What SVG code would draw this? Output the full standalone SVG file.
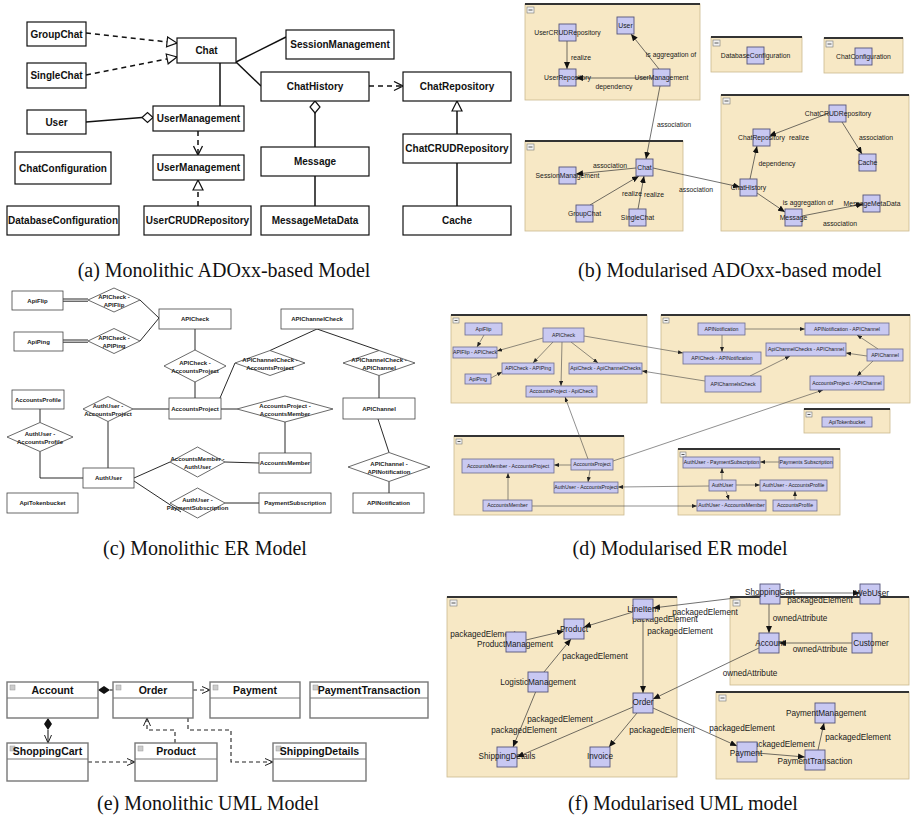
<svg xmlns="http://www.w3.org/2000/svg" width="911" height="826" viewBox="0 0 911 826">
<style>
.bx{fill:#fff;stroke:#111;stroke-width:1.2}
.ta{font:bold 10px "Liberation Sans",Arial,sans-serif;text-anchor:middle;fill:#111}
.la{stroke:#111;stroke-width:1.5;fill:none}
.dsh{stroke-dasharray:5 4}
.grp{fill:#f7e8c5;stroke:#cbb98f;stroke-width:.8}
.gtop{stroke:#333;stroke-width:1.8}
.mi{fill:#f2f2f2;stroke:#777;stroke-width:.6}
.mil{stroke:#333;stroke-width:.8}
.nd{fill:#c8c8f2;stroke:#55557a;stroke-width:.9}
.tb{font:6.8px "Liberation Sans",Arial,sans-serif;text-anchor:middle;fill:#1a1a1a}
.lb{stroke:#333;stroke-width:.7;fill:none}
.bc{fill:#fff;stroke:#444;stroke-width:.8}
.tc{font:bold 6px "Liberation Sans",Arial,sans-serif;text-anchor:middle;fill:#222}
.lc{stroke:#111;stroke-width:.9;fill:none}
.nd2{fill:#c9c9f1;stroke:#6b6b8f;stroke-width:.8}
.td{font:5.2px "Liberation Sans",Arial,sans-serif;text-anchor:middle;fill:#222}
.ld{stroke:#444;stroke-width:.6;fill:none}
.ub{fill:#fff;stroke:#777;stroke-width:1.4}
.uh{stroke:#777;stroke-width:1}
.ui{fill:#ccc;stroke:#999;stroke-width:.5}
.te{font:bold 10.5px "Liberation Sans",Arial,sans-serif;text-anchor:middle;fill:#111}
.le{stroke:#222;stroke-width:1.1;fill:none}
.de{stroke-dasharray:4 3}
.tf{font:8.2px "Liberation Sans",Arial,sans-serif;text-anchor:middle;fill:#1a1a1a}
.cap{font:20px "Liberation Serif","Times New Roman",serif;text-anchor:middle;fill:#111}
</style>
<defs>
<marker id="mTri" viewBox="0 0 12 12" refX="11" refY="6" markerWidth="12" markerHeight="12" markerUnits="userSpaceOnUse" orient="auto"><path d="M1,1 L11,6 L1,11 Z" fill="#fff" stroke="#111" stroke-width="1.2"/></marker>
<marker id="mOpen" viewBox="0 0 11 11" refX="10" refY="5.5" markerWidth="11" markerHeight="11" markerUnits="userSpaceOnUse" orient="auto"><path d="M1,1 L10,5.5 L1,10" fill="none" stroke="#111" stroke-width="1.3"/></marker>
<marker id="mFill" viewBox="0 0 7 6" refX="7" refY="3" markerWidth="7" markerHeight="6" markerUnits="userSpaceOnUse" orient="auto"><path d="M0,0 L7,3 L0,6 Z" fill="#111"/></marker>
<marker id="mFillS" viewBox="0 0 5 4" refX="5" refY="2" markerWidth="5" markerHeight="4" markerUnits="userSpaceOnUse" orient="auto"><path d="M0,0 L5,2 L0,4 Z" fill="#222"/></marker>
<marker id="mOpenE" viewBox="0 0 10 9" refX="9" refY="4.5" markerWidth="10" markerHeight="9" markerUnits="userSpaceOnUse" orient="auto"><path d="M1,1 L9,4.5 L1,8" fill="none" stroke="#222" stroke-width="1"/></marker>
</defs>

<!-- ================= (a) ================= -->
<g id="a-connectors">
<line class="la dsh" x1="86" y1="33" x2="177" y2="43" marker-end="url(#mTri)"/>
<line class="la dsh" x1="86" y1="75" x2="177" y2="57" marker-end="url(#mTri)"/>
<line class="la" x1="236" y1="62" x2="286" y2="37"/>
<line class="la" x1="236" y1="62" x2="261" y2="86"/>
<line class="la" x1="220" y1="63" x2="220" y2="106"/>
<line class="la" x1="86" y1="122" x2="142" y2="117.5"/>
<polygon points="142,117.5 147.5,112.5 153,117.5 147.5,122.5" fill="#fff" stroke="#111" stroke-width="1.2"/>
<line class="la dsh" x1="198" y1="131" x2="198" y2="155" marker-end="url(#mOpen)"/>
<line class="la dsh" x1="198" y1="206" x2="198" y2="180" marker-end="url(#mTri)"/>
<line class="la dsh" x1="369" y1="86" x2="403" y2="86" marker-end="url(#mOpen)"/>
<line class="la" x1="315" y1="147" x2="315" y2="113"/>
<polygon points="315,101 320,107 315,113 310,107" fill="#fff" stroke="#111" stroke-width="1.2"/>
<line class="la" x1="315" y1="176" x2="315" y2="206"/>
<line class="la" x1="457" y1="134" x2="457" y2="101" marker-end="url(#mTri)"/>
<line class="la" x1="457" y1="206" x2="457" y2="163"/>
</g>
<g id="a-GroupChat"><rect class="bx" x="27" y="22" width="59" height="24"/><text class="ta" x="56.5" y="37.5">GroupChat</text></g>
<g id="a-SingleChat"><rect class="bx" x="27" y="63" width="59" height="25"/><text class="ta" x="56.5" y="79">SingleChat</text></g>
<g id="a-Chat"><rect class="bx" x="177" y="38" width="59" height="25"/><text class="ta" x="206.5" y="54">Chat</text></g>
<g id="a-User"><rect class="bx" x="27" y="110" width="59" height="24"/><text class="ta" x="56.5" y="125.5">User</text></g>
<g id="a-UserManagement"><rect class="bx" x="153" y="106" width="91" height="25"/><text class="ta" x="198.5" y="122">UserManagement</text></g>
<g id="a-UserManagement2"><rect class="bx" x="153" y="155" width="91" height="25"/><text class="ta" x="198.5" y="171">UserManagement</text></g>
<g id="a-ChatConfiguration"><rect class="bx" x="15" y="152" width="96" height="32"/><text class="ta" x="63" y="171.5">ChatConfiguration</text></g>
<g id="a-DatabaseConfiguration"><rect class="bx" x="7" y="206" width="112" height="29"/><text class="ta" x="63" y="224">DatabaseConfiguration</text></g>
<g id="a-UserCRUDRepository"><rect class="bx" x="144" y="206" width="107" height="29"/><text class="ta" x="197.5" y="224">UserCRUDRepository</text></g>
<g id="a-SessionManagement"><rect class="bx" x="286" y="30" width="108" height="29"/><text class="ta" x="340" y="48">SessionManagement</text></g>
<g id="a-ChatHistory"><rect class="bx" x="261" y="72" width="108" height="29"/><text class="ta" x="315" y="90">ChatHistory</text></g>
<g id="a-ChatRepository"><rect class="bx" x="403" y="72" width="108" height="29"/><text class="ta" x="457" y="90">ChatRepository</text></g>
<g id="a-Message"><rect class="bx" x="261" y="147" width="108" height="29"/><text class="ta" x="315" y="165">Message</text></g>
<g id="a-ChatCRUDRepository"><rect class="bx" x="403" y="134" width="108" height="29"/><text class="ta" x="457" y="152">ChatCRUDRepository</text></g>
<g id="a-MessageMetaData"><rect class="bx" x="261" y="206" width="108" height="29"/><text class="ta" x="315" y="224">MessageMetaData</text></g>
<g id="a-Cache"><rect class="bx" x="403" y="206" width="108" height="29"/><text class="ta" x="457" y="224">Cache</text></g>

<!-- ================= (b) ================= -->
<g id="b-groups">
<rect class="grp" x="525" y="4" width="175" height="96"/><line class="gtop" x1="525" y1="4" x2="700" y2="4"/><rect class="mi" x="527" y="7" width="7" height="6"/><line class="mil" x1="528.5" y1="10" x2="532.5" y2="10"/>
<rect class="grp" x="711" y="37" width="91" height="35"/><line class="gtop" x1="711" y1="37" x2="802" y2="37"/><rect class="mi" x="713" y="40" width="7" height="6"/><line class="mil" x1="714.5" y1="43" x2="718.5" y2="43"/>
<rect class="grp" x="824" y="38" width="79" height="35"/><line class="gtop" x1="824" y1="38" x2="903" y2="38"/><rect class="mi" x="826" y="41" width="7" height="6"/><line class="mil" x1="827.5" y1="44" x2="831.5" y2="44"/>
<rect class="grp" x="721" y="95" width="188" height="136"/><line class="gtop" x1="721" y1="95" x2="909" y2="95"/><rect class="mi" x="723" y="98" width="7" height="6"/><line class="mil" x1="724.5" y1="101" x2="728.5" y2="101"/>
<rect class="grp" x="525" y="141" width="158" height="90"/><line class="gtop" x1="525" y1="141" x2="683" y2="141"/><rect class="mi" x="527" y="144" width="7" height="6"/><line class="mil" x1="528.5" y1="147" x2="532.5" y2="147"/>
</g>
<g id="b-connectors">
<line class="lb" x1="567" y1="41" x2="567" y2="69" marker-end="url(#mFill)"/>
<line class="lb" x1="653" y1="78" x2="576" y2="78" marker-end="url(#mFill)"/>
<line class="lb" x1="659" y1="69" x2="631" y2="34" marker-end="url(#mFill)"/>
<line class="lb" x1="660" y1="86" x2="646" y2="159" marker-end="url(#mFill)"/>
<line class="lb" x1="636" y1="168" x2="576" y2="174" marker-end="url(#mFill)"/>
<line class="lb" x1="590" y1="205" x2="639" y2="176" marker-end="url(#mFill)"/>
<line class="lb" x1="638" y1="209" x2="644" y2="176" marker-end="url(#mFill)"/>
<line class="lb" x1="653" y1="168" x2="740" y2="187" marker-end="url(#mFill)"/>
<line class="lb" x1="829" y1="113" x2="769" y2="136" marker-end="url(#mFill)"/>
<line class="lb" x1="842" y1="122" x2="862" y2="154" marker-end="url(#mFill)"/>
<line class="lb" x1="750" y1="179" x2="757" y2="146" marker-end="url(#mFill)"/>
<line class="lb" x1="757" y1="193" x2="785" y2="212" marker-end="url(#mFill)"/>
<line class="lb" x1="802" y1="216" x2="863" y2="204" marker-end="url(#mFill)"/>
<text class="tb" x="581" y="60">realize</text>
<text class="tb" x="671" y="57">is aggregation of</text>
<text class="tb" x="614" y="89">dependency</text>
<text class="tb" x="674" y="127">association</text>
<text class="tb" x="610" y="168">association</text>
<text class="tb" x="632" y="196">realize</text>
<text class="tb" x="654" y="197">realize</text>
<text class="tb" x="696" y="192">association</text>
<text class="tb" x="799" y="140">realize</text>
<text class="tb" x="876" y="140">association</text>
<text class="tb" x="777" y="166">dependency</text>
<text class="tb" x="808" y="205">is aggregation of</text>
<text class="tb" x="840" y="226">association</text>
</g>
<g id="b-User"><rect class="nd" x="617" y="17" width="17" height="17"/><text class="tb" x="625.5" y="28">User</text></g>
<g id="b-UserCRUDRepository"><rect class="nd" x="559" y="24" width="17" height="17"/><text class="tb" x="567.5" y="35">UserCRUDRepository</text></g>
<g id="b-UserRepository"><rect class="nd" x="559" y="69" width="17" height="17"/><text class="tb" x="567.5" y="80">UserRepository</text></g>
<g id="b-UserManagement"><rect class="nd" x="653" y="69" width="17" height="17"/><text class="tb" x="661.5" y="80">UserManagement</text></g>
<g id="b-Chat"><rect class="nd" x="636" y="159" width="17" height="17"/><text class="tb" x="644.5" y="170">Chat</text></g>
<g id="b-SessionManagement"><rect class="nd" x="559" y="167" width="17" height="17"/><text class="tb" x="567.5" y="178">SessionManagement</text></g>
<g id="b-GroupChat"><rect class="nd" x="576" y="205" width="17" height="17"/><text class="tb" x="584.5" y="216">GroupChat</text></g>
<g id="b-SingleChat"><rect class="nd" x="629" y="209" width="17" height="17"/><text class="tb" x="637.5" y="220">SingleChat</text></g>
<g id="b-DatabaseConfiguration"><rect class="nd" x="747" y="47" width="17" height="17"/><text class="tb" x="755.5" y="58">DatabaseConfiguration</text></g>
<g id="b-ChatConfiguration"><rect class="nd" x="855" y="48" width="17" height="17"/><text class="tb" x="863.5" y="59">ChatConfiguration</text></g>
<g id="b-ChatCRUDRepository"><rect class="nd" x="829" y="105" width="17" height="17"/><text class="tb" x="838" y="116">ChatCRUDRepository</text></g>
<g id="b-ChatRepository"><rect class="nd" x="753" y="129" width="17" height="17"/><text class="tb" x="761.5" y="140">ChatRepository</text></g>
<g id="b-Cache"><rect class="nd" x="859" y="154" width="17" height="17"/><text class="tb" x="867.5" y="165">Cache</text></g>
<g id="b-ChatHistory"><rect class="nd" x="740" y="179" width="17" height="17"/><text class="tb" x="748.5" y="190">ChatHistory</text></g>
<g id="b-Message"><rect class="nd" x="785" y="209" width="17" height="17"/><text class="tb" x="793.5" y="220">Message</text></g>
<g id="b-MessageMetaData"><rect class="nd" x="863" y="195" width="17" height="17"/><text class="tb" x="872" y="206">MessageMetaData</text></g>

<!-- ================= (c) ================= -->
<g id="c-connectors">
<line class="lc" x1="63" y1="299" x2="88" y2="299"/>
<line class="lc" x1="63" y1="301.2" x2="88" y2="301.2"/>
<line class="lc" x1="63" y1="340" x2="88" y2="340"/>
<line class="lc" x1="63" y1="342.2" x2="88" y2="342.2"/>
<line class="lc" x1="140" y1="300" x2="159" y2="318"/>
<line class="lc" x1="140" y1="341" x2="159" y2="318"/>
<line class="lc" x1="195" y1="329" x2="195" y2="350"/>
<line class="lc" x1="195" y1="382" x2="195" y2="398"/>
<line class="lc" x1="40" y1="409" x2="40" y2="422.5"/>
<polyline class="lc" points="40,451.5 40,478 83,478"/>
<line class="lc" x1="108" y1="421.5" x2="108" y2="468"/>
<line class="lc" x1="133" y1="409" x2="169" y2="409"/>
<line class="lc" x1="134" y1="478" x2="170" y2="462"/>
<line class="lc" x1="134" y1="481" x2="181" y2="512"/>
<line class="lc" x1="225" y1="462" x2="259" y2="463"/>
<line class="lc" x1="225" y1="503" x2="259" y2="503"/>
<line class="lc" x1="317" y1="329" x2="270" y2="350.5"/>
<line class="lc" x1="317" y1="329" x2="379" y2="350.5"/>
<line class="lc" x1="235" y1="363" x2="220" y2="398"/>
<line class="lc" x1="221" y1="409" x2="237" y2="409"/>
<line class="lc" x1="285" y1="422" x2="285" y2="453"/>
<line class="lc" x1="379" y1="375.5" x2="379" y2="398"/>
<line class="lc" x1="378" y1="419" x2="389" y2="452.5"/>
<line class="lc" x1="389" y1="481.5" x2="389" y2="493"/>
</g>
<g id="c-ApiFlip"><rect class="bc" x="12" y="291" width="51" height="19"/><text class="tc" x="37.5" y="302.5">ApiFlip</text></g>
<g id="c-ApiPing"><rect class="bc" x="14" y="332" width="49" height="19"/><text class="tc" x="38.5" y="343.5">ApiPing</text></g>
<g id="c-APICheck"><rect class="bc" x="159" y="309" width="72" height="20"/><text class="tc" x="195" y="321">APICheck</text></g>
<g id="c-AccountsProject"><rect class="bc" x="169" y="398" width="52" height="21"/><text class="tc" x="195" y="410.5">AccountsProject</text></g>
<g id="c-AccountsProfile"><rect class="bc" x="12" y="390" width="52" height="19"/><text class="tc" x="38" y="401.5">AccountsProfile</text></g>
<g id="c-AuthUser"><rect class="bc" x="83" y="468" width="51" height="20"/><text class="tc" x="108.5" y="480">AuthUser</text></g>
<g id="c-ApiTokenbucket"><rect class="bc" x="7" y="493" width="71" height="20"/><text class="tc" x="42.5" y="505">ApiTokenbucket</text></g>
<g id="c-APIChannelCheck"><rect class="bc" x="281" y="309" width="72" height="20"/><text class="tc" x="317" y="321">APIChannelCheck</text></g>
<g id="c-AccountsMember"><rect class="bc" x="259" y="453" width="52" height="20"/><text class="tc" x="285" y="465">AccountsMember</text></g>
<g id="c-PaymentSubscription"><rect class="bc" x="259" y="493" width="72" height="20"/><text class="tc" x="295" y="505">PaymentSubscription</text></g>
<g id="c-APIChannel"><rect class="bc" x="343" y="398" width="72" height="21"/><text class="tc" x="379" y="410.5">APIChannel</text></g>
<g id="c-APINotification"><rect class="bc" x="353" y="493" width="71" height="20"/><text class="tc" x="388.5" y="505">APINotification</text></g>
<g id="c-r1"><polygon class="bc" points="88,300 114,288 140,300 114,312"/><text class="tc" x="114" y="299">APICheck -</text><text class="tc" x="114" y="306.5">APIFlip</text></g>
<g id="c-r2"><polygon class="bc" points="88,341 114,328.5 140,341 114,353.5"/><text class="tc" x="114" y="340">APICheck -</text><text class="tc" x="114" y="347.5">APIPing</text></g>
<g id="c-r3"><polygon class="bc" points="164,366 195,350 226,366 195,382"/><text class="tc" x="195" y="365">APICheck -</text><text class="tc" x="195" y="372.5">AccountsProject</text></g>
<g id="c-r4"><polygon class="bc" points="83,409 108,396.5 133,409 108,421.5"/><text class="tc" x="108" y="408">AuthUser -</text><text class="tc" x="108" y="415.5">AccountsProject</text></g>
<g id="c-r5"><polygon class="bc" points="7,437 40,422.5 73,437 40,451.5"/><text class="tc" x="40" y="436">AuthUser -</text><text class="tc" x="40" y="443.5">AccountsProfile</text></g>
<g id="c-r6"><polygon class="bc" points="170,462 197.5,447 225,462 197.5,477"/><text class="tc" x="197.5" y="461">AccountsMember -</text><text class="tc" x="197.5" y="468.5">AuthUser</text></g>
<g id="c-r7"><polygon class="bc" points="170,503 197.5,488 225,503 197.5,518"/><text class="tc" x="197.5" y="502">AuthUser -</text><text class="tc" x="197.5" y="509.5">PaymentSubscription</text></g>
<g id="c-r8"><polygon class="bc" points="235,363 270,350.5 305,363 270,375.5"/><text class="tc" x="270" y="362">APIChannelCheck -</text><text class="tc" x="270" y="369.5">AccountsProject</text></g>
<g id="c-r9"><polygon class="bc" points="343,363 379,350.5 415,363 379,375.5"/><text class="tc" x="379" y="362">APIChannelCheck -</text><text class="tc" x="379" y="369.5">APIChannel</text></g>
<g id="c-r10"><polygon class="bc" points="237,409 285,396 333,409 285,422"/><text class="tc" x="285" y="408">AccountsProject -</text><text class="tc" x="285" y="415.5">AccountsMember</text></g>
<g id="c-r11"><polygon class="bc" points="348,467 389,452.5 430,467 389,481.5"/><text class="tc" x="389" y="466">APIChannel -</text><text class="tc" x="389" y="473.5">APINotification</text></g>

<!-- ================= (d) ================= -->
<g id="d-groups">
<rect class="grp" x="451" y="315" width="196" height="88"/><line class="gtop" x1="451" y1="315" x2="647" y2="315"/><rect class="mi" x="453" y="318" width="6" height="5"/><line class="mil" x1="454.5" y1="320.5" x2="457.5" y2="320.5"/>
<rect class="grp" x="661" y="315" width="249" height="88"/><line class="gtop" x1="661" y1="315" x2="910" y2="315"/><rect class="mi" x="663" y="318" width="6" height="5"/><line class="mil" x1="664.5" y1="320.5" x2="667.5" y2="320.5"/>
<rect class="grp" x="804" y="409" width="86" height="24"/><line class="gtop" x1="804" y1="409" x2="890" y2="409"/><rect class="mi" x="806" y="412" width="6" height="5"/><line class="mil" x1="807.5" y1="414.5" x2="810.5" y2="414.5"/>
<rect class="grp" x="454" y="436" width="170" height="79"/><line class="gtop" x1="454" y1="436" x2="624" y2="436"/><rect class="mi" x="456" y="439" width="6" height="5"/><line class="mil" x1="457.5" y1="441.5" x2="460.5" y2="441.5"/>
<rect class="grp" x="678" y="449" width="162" height="66"/><line class="gtop" x1="678" y1="449" x2="840" y2="449"/><rect class="mi" x="680" y="452" width="6" height="5"/><line class="mil" x1="681.5" y1="454.5" x2="684.5" y2="454.5"/>
</g>
<g id="d-connectors">
<line class="ld" x1="484" y1="335" x2="477" y2="347" marker-end="url(#mFillS)"/>
<line class="ld" x1="543" y1="338" x2="497" y2="351" marker-end="url(#mFillS)"/>
<line class="ld" x1="491" y1="378" x2="502" y2="372" marker-end="url(#mFillS)"/>
<line class="ld" x1="553" y1="342" x2="533" y2="363" marker-end="url(#mFillS)"/>
<line class="ld" x1="562" y1="342" x2="561" y2="386" marker-end="url(#mFillS)"/>
<line class="ld" x1="571" y1="342" x2="598" y2="363" marker-end="url(#mFillS)"/>
<line class="ld" x1="584" y1="336" x2="683" y2="353" marker-end="url(#mFillS)"/>
<line class="ld" x1="705" y1="381" x2="642" y2="371" marker-end="url(#mFillS)"/>
<line class="ld" x1="588" y1="459" x2="565" y2="397" marker-end="url(#mFillS)"/>
<line class="ld" x1="571" y1="465" x2="554" y2="465" marker-end="url(#mFillS)"/>
<line class="ld" x1="590" y1="470" x2="588" y2="482" marker-end="url(#mFillS)"/>
<line class="ld" x1="508" y1="500" x2="508" y2="473" marker-end="url(#mFillS)"/>
<line class="ld" x1="613" y1="461" x2="823" y2="390" marker-end="url(#mFillS)"/>
<line class="ld" x1="709" y1="486" x2="618" y2="487" marker-end="url(#mFillS)"/>
<line class="ld" x1="532" y1="506" x2="697" y2="506" marker-end="url(#mFillS)"/>
<line class="ld" x1="745" y1="329" x2="805" y2="329" marker-end="url(#mFillS)"/>
<line class="ld" x1="722" y1="335" x2="722" y2="352" marker-end="url(#mFillS)"/>
<line class="ld" x1="878" y1="349" x2="857" y2="335" marker-end="url(#mFillS)"/>
<line class="ld" x1="867" y1="356" x2="846" y2="353" marker-end="url(#mFillS)"/>
<line class="ld" x1="873" y1="361" x2="857" y2="376" marker-end="url(#mFillS)"/>
<line class="ld" x1="750" y1="376" x2="790" y2="356" marker-end="url(#mFillS)"/>
<line class="ld" x1="779" y1="462" x2="760" y2="462" marker-end="url(#mFillS)"/>
<line class="ld" x1="722" y1="480" x2="722" y2="468" marker-end="url(#mFillS)"/>
<line class="ld" x1="736" y1="485" x2="760" y2="485" marker-end="url(#mFillS)"/>
<line class="ld" x1="726" y1="491" x2="729" y2="500" marker-end="url(#mFillS)"/>
<line class="ld" x1="795" y1="500" x2="795" y2="491" marker-end="url(#mFillS)"/>
</g>
<g id="d-ApiFlip"><rect class="nd2" x="465" y="323" width="37" height="12"/><text class="td" x="483.5" y="330.8">ApiFlip</text></g>
<g id="d-APIFlip-APICheck"><rect class="nd2" x="453" y="347" width="44" height="11"/><text class="td" x="475" y="354.3">APIFlip - APICheck</text></g>
<g id="d-APICheck"><rect class="nd2" x="543" y="328" width="41" height="14"/><text class="td" x="563.5" y="336.8">APICheck</text></g>
<g id="d-ApiPing"><rect class="nd2" x="465" y="374" width="26" height="10"/><text class="td" x="478" y="380.8">ApiPing</text></g>
<g id="d-APICheck-APIPing"><rect class="nd2" x="502" y="363" width="52" height="11"/><text class="td" x="528" y="370.3">APICheck - APIPing</text></g>
<g id="d-ApiCheck-ApiChannelChecks"><rect class="nd2" x="569" y="363" width="73" height="11"/><text class="td" x="605.5" y="370.3">ApiCheck - ApiChannelChecks</text></g>
<g id="d-AccountsProject-ApiCheck"><rect class="nd2" x="526" y="386" width="71" height="11"/><text class="td" x="561.5" y="393.3">AccountsProject - ApiCheck</text></g>
<g id="d-AccountsProject"><rect class="nd2" x="571" y="459" width="42" height="11"/><text class="td" x="592" y="466.3">AccountsProject</text></g>
<g id="d-AccountsMember-AccountsProject"><rect class="nd2" x="462" y="459" width="92" height="14"/><text class="td" x="508" y="467.8">AccountsMember - AccountsProject</text></g>
<g id="d-AuthUser-AccountsProject"><rect class="nd2" x="554" y="482" width="64" height="11"/><text class="td" x="586" y="489.3">AuthUser - AccountsProject</text></g>
<g id="d-AccountsMember"><rect class="nd2" x="483" y="500" width="49" height="11"/><text class="td" x="507.5" y="507.3">AccountsMember</text></g>
<g id="d-APINotification"><rect class="nd2" x="698" y="323" width="47" height="12"/><text class="td" x="721.5" y="330.8">APINotification</text></g>
<g id="d-APINotification-APIChannel"><rect class="nd2" x="805" y="323" width="84" height="12"/><text class="td" x="847" y="330.8">APINotification - APIChannel</text></g>
<g id="d-APICheck-APINotification"><rect class="nd2" x="683" y="352" width="78" height="12"/><text class="td" x="722" y="359.8">APICheck - APINotification</text></g>
<g id="d-ApiChannelChecks-APIChannel"><rect class="nd2" x="766" y="343" width="80" height="13"/><text class="td" x="806" y="351.3">ApiChannelChecks - APIChannel</text></g>
<g id="d-APIChannel"><rect class="nd2" x="867" y="349" width="36" height="12"/><text class="td" x="885" y="356.8">APIChannel</text></g>
<g id="d-APIChannelsCheck"><rect class="nd2" x="705" y="376" width="56" height="16"/><text class="td" x="733" y="385.8">APIChannelsCheck</text></g>
<g id="d-AccountsProject-APIChannel"><rect class="nd2" x="810" y="376" width="74" height="14"/><text class="td" x="847" y="384.8">AccountsProject - APIChannel</text></g>
<g id="d-ApiTokenbucket"><rect class="nd2" x="822" y="417" width="50" height="10"/><text class="td" x="847" y="423.8">ApiTokenbucket</text></g>
<g id="d-AuthUser-PaymentSubscription"><rect class="nd2" x="683" y="457" width="77" height="11"/><text class="td" x="721.5" y="464.3">AuthUser - PaymentSubscription</text></g>
<g id="d-PaymentsSubscription"><rect class="nd2" x="779" y="457" width="54" height="11"/><text class="td" x="806" y="464.3">Payments Subscription</text></g>
<g id="d-AuthUser"><rect class="nd2" x="709" y="480" width="27" height="11"/><text class="td" x="722.5" y="487.3">AuthUser</text></g>
<g id="d-AuthUser-AccountsProfile"><rect class="nd2" x="760" y="480" width="67" height="11"/><text class="td" x="793.5" y="487.3">AuthUser - AccountsProfile</text></g>
<g id="d-AuthUser-AccountsMember"><rect class="nd2" x="697" y="500" width="69" height="11"/><text class="td" x="731.5" y="507.3">AuthUser - AccountsMember</text></g>
<g id="d-AccountsProfile"><rect class="nd2" x="773" y="500" width="44" height="11"/><text class="td" x="795" y="507.3">AccountsProfile</text></g>

<!-- ================= (e) ================= -->
<g id="e-connectors">
<polygon points="98,690 104,686 110,690 104,694" fill="#111"/>
<line class="le" x1="110" y1="690" x2="113" y2="690"/>
<polygon points="48,718 52,724 48,730 44,724" fill="#111"/>
<line class="le" x1="48" y1="730" x2="48" y2="743" marker-end="url(#mOpenE)"/>
<line class="le de" x1="193" y1="690" x2="210" y2="690" marker-end="url(#mOpenE)"/>
<line class="le de" x1="88" y1="762" x2="135" y2="762" marker-end="url(#mOpenE)"/>
<polyline class="le de" points="175,743 175,730 147,730 147,718" marker-end="url(#mOpenE)"/>
<polyline class="le de" points="188,718 188,730 231,730 231,762 273,762" marker-end="url(#mOpenE)"/>
</g>
<g id="e-Account"><rect class="ub" x="7" y="682" width="91" height="36"/><line class="uh" x1="7" y1="698" x2="98" y2="698"/><rect class="ui" x="10" y="685" width="5" height="5"/><text class="te" x="52.5" y="694">Account</text></g>
<g id="e-Order"><rect class="ub" x="113" y="682" width="80" height="36"/><line class="uh" x1="113" y1="698" x2="193" y2="698"/><rect class="ui" x="116" y="685" width="5" height="5"/><text class="te" x="153" y="694">Order</text></g>
<g id="e-Payment"><rect class="ub" x="210" y="682" width="90" height="36"/><line class="uh" x1="210" y1="698" x2="300" y2="698"/><rect class="ui" x="213" y="685" width="5" height="5"/><text class="te" x="255" y="694">Payment</text></g>
<g id="e-PaymentTransaction"><rect class="ub" x="310" y="682" width="118" height="36"/><line class="uh" x1="310" y1="698" x2="428" y2="698"/><rect class="ui" x="313" y="685" width="5" height="5"/><text class="te" x="369" y="694">PaymentTransaction</text></g>
<g id="e-ShoppingCart"><rect class="ub" x="7" y="743" width="81" height="38"/><line class="uh" x1="7" y1="759" x2="88" y2="759"/><rect class="ui" x="10" y="746" width="5" height="5"/><text class="te" x="47.5" y="755">ShoppingCart</text></g>
<g id="e-Product"><rect class="ub" x="135" y="743" width="82" height="38"/><line class="uh" x1="135" y1="759" x2="217" y2="759"/><rect class="ui" x="138" y="746" width="5" height="5"/><text class="te" x="176" y="755">Product</text></g>
<g id="e-ShippingDetails"><rect class="ub" x="273" y="743" width="93" height="38"/><line class="uh" x1="273" y1="759" x2="366" y2="759"/><rect class="ui" x="276" y="746" width="5" height="5"/><text class="te" x="319.5" y="755">ShippingDetails</text></g>

<!-- ================= (f) ================= -->
<g id="f-groups">
<rect class="grp" x="447" y="597" width="230" height="180"/><line class="gtop" x1="447" y1="597" x2="677" y2="597"/><rect class="mi" x="450" y="600" width="7" height="6"/><line class="mil" x1="451.5" y1="603" x2="455.5" y2="603"/>
<rect class="grp" x="730" y="597" width="179" height="88"/><line class="gtop" x1="730" y1="597" x2="909" y2="597"/><rect class="mi" x="733" y="600" width="7" height="6"/><line class="mil" x1="734.5" y1="603" x2="738.5" y2="603"/>
<rect class="grp" x="716" y="692" width="193" height="87"/><line class="gtop" x1="716" y1="692" x2="909" y2="692"/><rect class="mi" x="719" y="695" width="7" height="6"/><line class="mil" x1="720.5" y1="698" x2="724.5" y2="698"/>
</g>
<g id="f-connectors">
<line class="lb" x1="760" y1="595" x2="653" y2="608" marker-end="url(#mFill)"/>
<line class="lb" x1="780" y1="593" x2="860" y2="593" marker-end="url(#mFill)"/>
<line class="lb" x1="769" y1="604" x2="769" y2="633" marker-end="url(#mFill)"/>
<line class="lb" x1="852" y1="643" x2="779" y2="643" marker-end="url(#mFill)"/>
<line class="lb" x1="759" y1="648" x2="653" y2="699" marker-end="url(#mFill)"/>
<line class="lb" x1="633" y1="612" x2="584" y2="627" marker-end="url(#mFill)"/>
<line class="lb" x1="526" y1="640" x2="564" y2="631" marker-end="url(#mFill)"/>
<line class="lb" x1="544" y1="672" x2="571" y2="639" marker-end="url(#mFill)"/>
<line class="lb" x1="536" y1="691" x2="513" y2="747" marker-end="url(#mFill)"/>
<line class="lb" x1="643" y1="619" x2="643" y2="693" marker-end="url(#mFill)"/>
<line class="lb" x1="633" y1="707" x2="517" y2="757" marker-end="url(#mFill)"/>
<line class="lb" x1="637" y1="713" x2="609" y2="747" marker-end="url(#mFill)"/>
<line class="lb" x1="653" y1="708" x2="737" y2="746" marker-end="url(#mFill)"/>
<line class="lb" x1="757" y1="753" x2="805" y2="757" marker-end="url(#mFill)"/>
<line class="lb" x1="818" y1="750" x2="824" y2="723" marker-end="url(#mFill)"/>
<text class="tf" x="705" y="615">packagedElement</text>
<text class="tf" x="665" y="622">packagedElement</text>
<text class="tf" x="680" y="634">packagedElement</text>
<text class="tf" x="483" y="637">packagedElement</text>
<text class="tf" x="595" y="659">packagedElement</text>
<text class="tf" x="560" y="722">packagedElement</text>
<text class="tf" x="524" y="733">packagedElement</text>
<text class="tf" x="662" y="733">packagedElement</text>
<text class="tf" x="742" y="731">packagedElement</text>
<text class="tf" x="820" y="603">packagedElement</text>
<text class="tf" x="800" y="621">ownedAttribute</text>
<text class="tf" x="820" y="652">ownedAttribute</text>
<text class="tf" x="750" y="676">ownedAttribute</text>
<text class="tf" x="782" y="747">packagedElement</text>
<text class="tf" x="858" y="740">packagedElement</text>
</g>
<g id="f-LineItem"><rect class="nd" x="633" y="599" width="20" height="20"/><text class="tf" x="643" y="612">LineItem</text></g>
<g id="f-Product"><rect class="nd" x="564" y="619" width="20" height="20"/><text class="tf" x="574" y="632">Product</text></g>
<g id="f-ProductManagement"><rect class="nd" x="506" y="632" width="20" height="20"/><text class="tf" x="515" y="647">ProductManagement</text></g>
<g id="f-LogisticManagement"><rect class="nd" x="528" y="672" width="20" height="20"/><text class="tf" x="538" y="685">LogisticManagement</text></g>
<g id="f-Order"><rect class="nd" x="633" y="693" width="20" height="20"/><text class="tf" x="643" y="705">Order</text></g>
<g id="f-ShippingDetails"><rect class="nd" x="497" y="747" width="20" height="20"/><text class="tf" x="507" y="759">ShippingDetails</text></g>
<g id="f-Invoice"><rect class="nd" x="590" y="747" width="20" height="20"/><text class="tf" x="600" y="759">Invoice</text></g>
<g id="f-ShoppingCart"><rect class="nd" x="760" y="584" width="20" height="20"/><text class="tf" x="770" y="595">ShoppingCart</text></g>
<g id="f-WebUser"><rect class="nd" x="860" y="584" width="20" height="20"/><text class="tf" x="872" y="596">WebUser</text></g>
<g id="f-Account"><rect class="nd" x="759" y="633" width="20" height="20"/><text class="tf" x="770" y="646">Account</text></g>
<g id="f-Customer"><rect class="nd" x="852" y="633" width="20" height="20"/><text class="tf" x="871" y="646">Customer</text></g>
<g id="f-PaymentManagement"><rect class="nd" x="815" y="703" width="20" height="20"/><text class="tf" x="826" y="716">PaymentManagement</text></g>
<g id="f-Payment"><rect class="nd" x="737" y="742" width="20" height="20"/><text class="tf" x="746" y="756">Payment</text></g>
<g id="f-PaymentTransaction"><rect class="nd" x="805" y="750" width="20" height="20"/><text class="tf" x="815" y="764">PaymentTransaction</text></g>

<!-- ================= captions ================= -->
<g id="captions">
<text class="cap" x="224" y="277">(a) Monolithic ADOxx-based Model</text>
<text class="cap" x="730" y="277">(b) Modularised ADOxx-based model</text>
<text class="cap" x="205" y="555">(c) Monolithic ER Model</text>
<text class="cap" x="680" y="555">(d) Modularised ER model</text>
<text class="cap" x="208" y="810">(e) Monolithic UML Model</text>
<text class="cap" x="683" y="810">(f) Modularised UML model</text>
</g>
</svg>
